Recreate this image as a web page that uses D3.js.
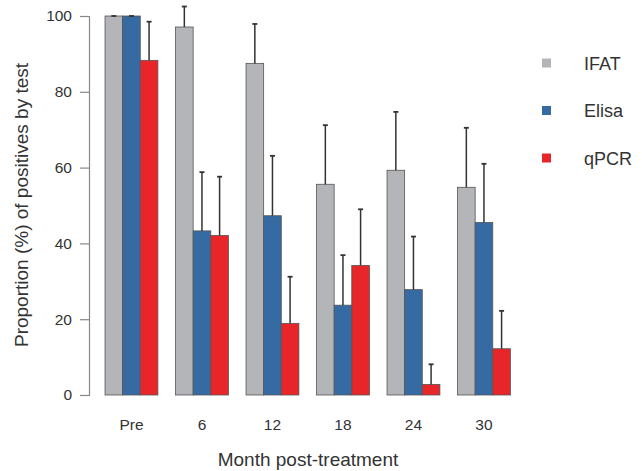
<!DOCTYPE html>
<html>
<head>
<meta charset="utf-8">
<script src="https://cdn.jsdelivr.net/npm/d3@7"></script>
<style>
html,body{margin:0;padding:0;background:#fff;}
svg{display:block;font-family:"Liberation Sans",Arial,sans-serif;}
</style>
</head>
<body>
<svg id="chart" width="642" height="471"></svg>
<script>
const categories = ["Pre", "6", "12", "18", "24", "30"];
const seriesNames = ["IFAT", "Elisa", "qPCR"];
const ifat      = [100, 97.1, 87.5, 55.6, 59.3, 54.8];
const ifatUpper = [100, 102.5, 97.9, 71.2, 74.7, 70.5];
const elisa      = [100, 43.3, 47.3, 23.7, 27.8, 45.5];
const elisaUpper = [100, 58.8, 63.1, 36.9, 41.8, 61.0];
const qpcr      = [88.3, 42.1, 18.9, 34.2, 2.8, 12.2];
const qpcrUpper = [98.5, 57.6, 31.2, 49.0, 8.1, 22.2];
const yTicks = [0, 20, 40, 60, 80, 100];
const colors = ["#b4b5b9", "#356aa3", "#e8262a"];

const values = [ifat, elisa, qpcr];
const uppers = [ifatUpper, elisaUpper, qpcrUpper];

const svg = d3.select("#chart");
const y = d3.scaleLinear().domain([0, 100]).range([395, 16]);

// group scale: each group = 3 bars + 1 gap unit
const x0 = d3.scaleBand().domain(categories).range([87.4, 510.4]).paddingInner(0.25).paddingOuter(0.125).align(1);
const x1 = d3.scaleBand().domain(seriesNames).range([0, x0.bandwidth()]);

const data = [];
categories.forEach((c, i) => {
  seriesNames.forEach((s, j) => {
    data.push({cat: c, series: s, v: values[j][i], up: uppers[j][i], color: colors[j]});
  });
});

const g = svg.append("g");
g.selectAll("rect.bar").data(data).enter().append("rect")
  .attr("class", "bar")
  .attr("x", d => x0(d.cat) + x1(d.series))
  .attr("y", d => y(d.v))
  .attr("width", x1.bandwidth())
  .attr("height", d => y(0) - y(d.v))
  .attr("fill", d => d.color)
  .attr("stroke", "#555")
  .attr("stroke-width", 0.8);

// error bars
const eb = g.selectAll("g.err").data(data).enter().append("g").attr("class", "err");
eb.append("line")
  .attr("x1", d => x0(d.cat) + x1(d.series) + x1.bandwidth() / 2)
  .attr("x2", d => x0(d.cat) + x1(d.series) + x1.bandwidth() / 2)
  .attr("y1", d => y(d.v))
  .attr("y2", d => y(d.up))
  .attr("stroke", "#333").attr("stroke-width", 1.5);
eb.append("line")
  .attr("x1", d => x0(d.cat) + x1(d.series) + x1.bandwidth() / 2 - 2.5)
  .attr("x2", d => x0(d.cat) + x1(d.series) + x1.bandwidth() / 2 + 2.5)
  .attr("y1", d => y(d.up))
  .attr("y2", d => y(d.up))
  .attr("stroke", "#333").attr("stroke-width", 1.8);

// y axis
const yAxis = d3.axisLeft(y).tickValues(yTicks).tickSize(9).tickPadding(8);
const ya = svg.append("g").attr("transform", "translate(89,0)").call(yAxis);
ya.select(".domain").attr("stroke", "#888").attr("stroke-width", 1.2);
ya.selectAll(".tick line").attr("stroke", "#888").attr("stroke-width", 1.2);
ya.selectAll(".tick text").attr("fill", "#333").style("font-size", "15.5px").attr("font-family", "Liberation Sans, Arial, sans-serif");

// x labels
svg.append("g").selectAll("text").data(categories).enter().append("text")
  .attr("x", d => x0(d) + x0.bandwidth() / 2)
  .attr("y", 430)
  .attr("text-anchor", "middle")
  .attr("fill", "#333")
  .style("font-size", "15.5px")
  .text(d => d);

// axis titles
svg.append("text")
  .attr("x", 308).attr("y", 466)
  .attr("text-anchor", "middle").attr("fill", "#333")
  .style("font-size", "19px")
  .text("Month post-treatment");
svg.append("text")
  .attr("transform", "translate(28,205) rotate(-90)")
  .attr("text-anchor", "middle").attr("fill", "#333")
  .style("font-size", "19px")
  .text("Proportion (%) of positives by test");

// legend
const lg = svg.append("g").selectAll("g").data(seriesNames).enter().append("g")
  .attr("transform", (d, i) => `translate(542,${63 + i * 47.5})`);
lg.append("rect").attr("x", 0).attr("y", -4.5).attr("width", 9).attr("height", 9)
  .attr("fill", (d, i) => colors[i]);
lg.append("text").attr("x", 42).attr("y", 6.5).attr("fill", "#333")
  .style("font-size", "18px").text(d => d);
</script>
</body>
</html>
